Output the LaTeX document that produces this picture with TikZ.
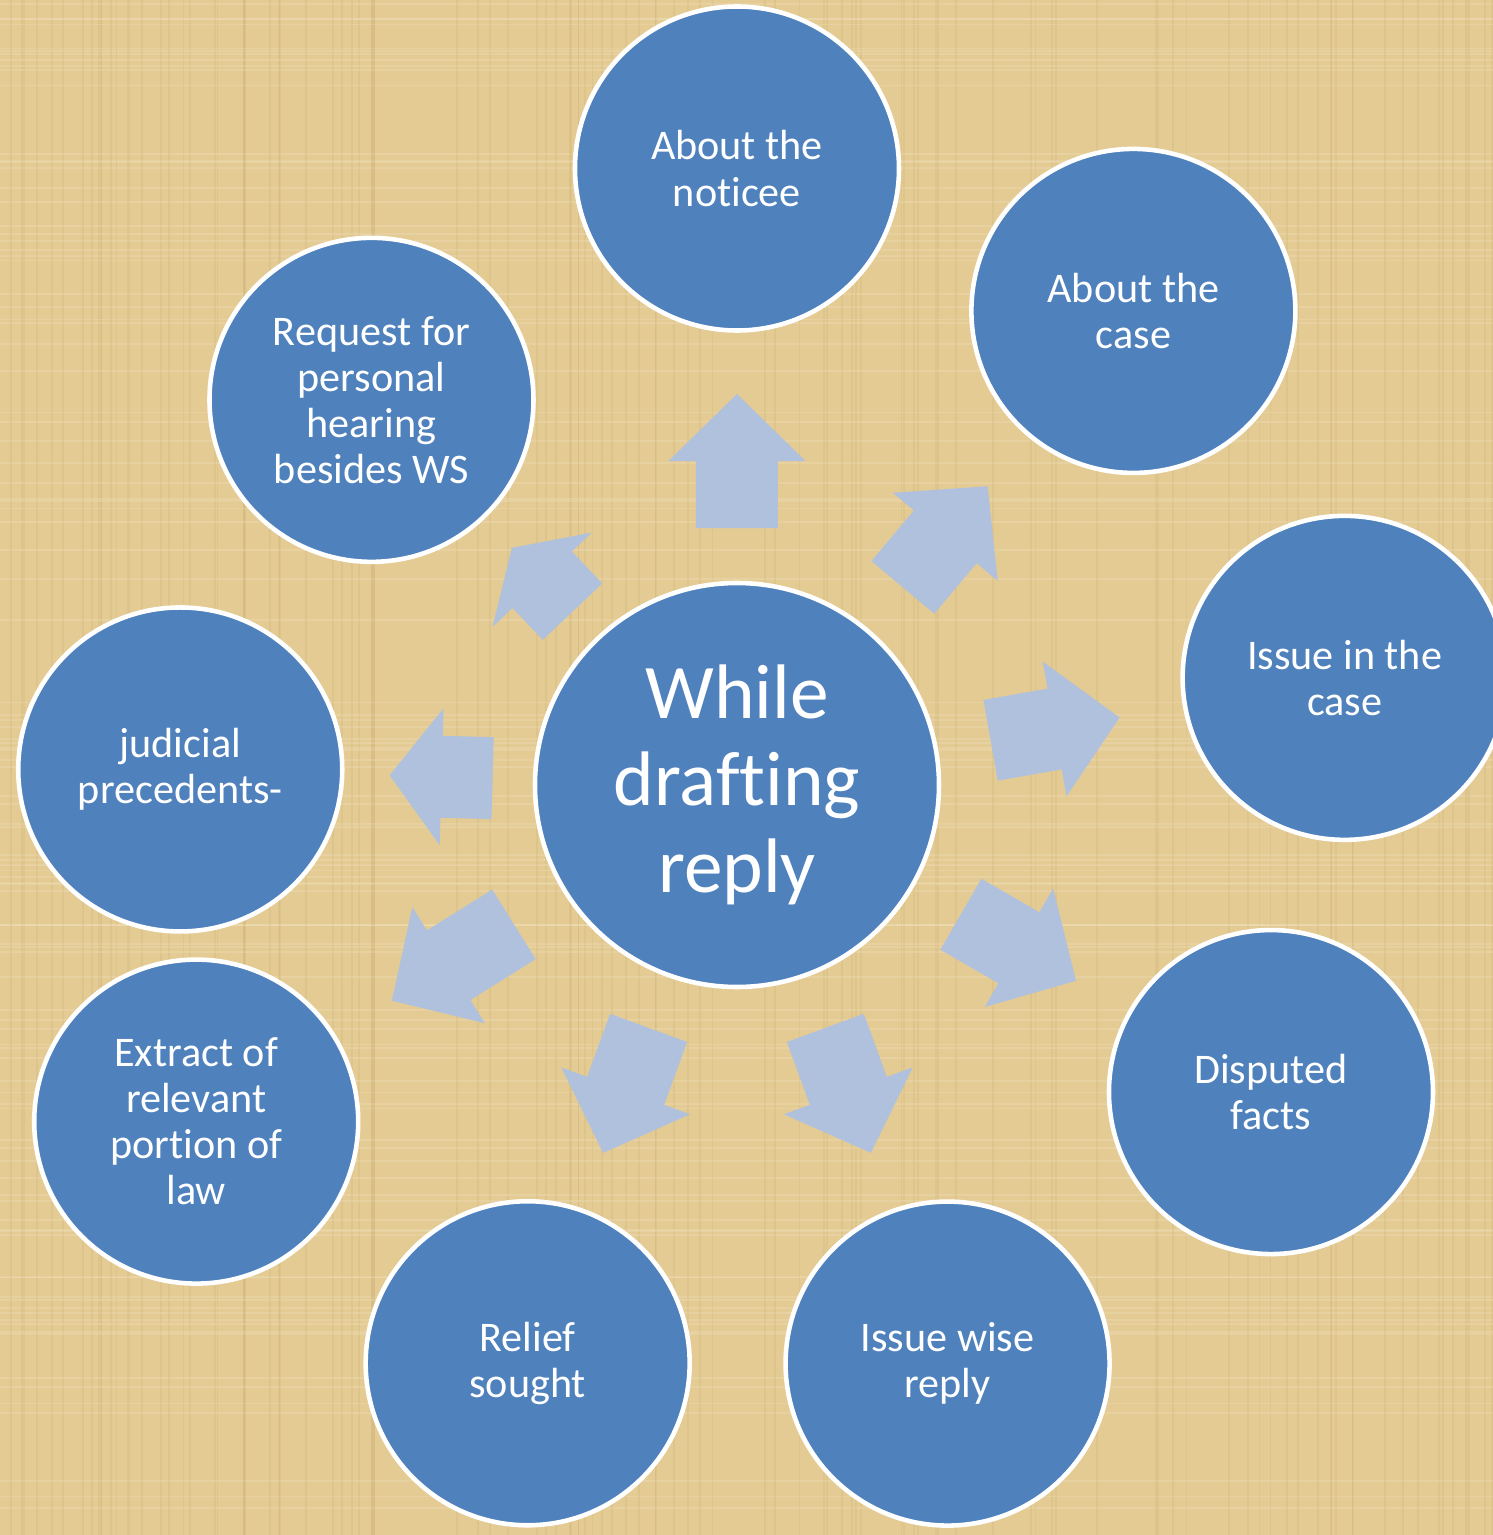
\documentclass[tikz,border=0pt]{standalone}
\usepackage{fontspec}
\setmainfont{Carlito}[Ligatures=NoCommon]
\definecolor{circblue}{RGB}{79,129,189}
\definecolor{arrowblue}{RGB}{176,193,222}
\definecolor{paper}{RGB}{228,203,148}
\definecolor{paperdark}{RGB}{190,160,98}
\definecolor{paperlight}{RGB}{242,226,188}
\tikzset{
  hub/.style={circle, fill=circblue, draw=white, line width=1.3pt, minimum size=4.04cm,
    inner sep=0pt, text=white, align=center, font=\fontsize{22}{24.7}\selectfont},
  leaf/.style={circle, fill=circblue, draw=white, line width=1.3pt, minimum size=3.24cm,
    inner sep=0pt, text=white, align=center, font=\fontsize{12}{13.1}\selectfont},
  fatarrow/.style={fill=arrowblue, draw=none}
}
\begin{document}
\begin{tikzpicture}
            \fill[paper] (-7.37,-7.50) rectangle (7.56,7.85);
            \clip (-7.37,-7.50) rectangle (7.56,7.85);
            % canvas texture
            \pgfmathsetseed{42}
            \foreach \k in {1, 2, ..., 110}
                {
                    \pgfmathsetmacro\xx{-7.37 + 14.93*rnd}
                    \pgfmathsetmacro\yy{-7.50 + 15.35*rnd}
                    \draw[paperdark, opacity=.16, line width=.5pt] (\xx,-7.50) -- (\xx,7.85);
                    \draw[paperlight, opacity=.30, line width=.5pt] (-7.37,\yy) -- (7.56,\yy);
                }
            % block arrows: angle / distance / length / head length
            \foreach \ang/\pos/\len/\head in {90/3.24/1.34/.67, 50/3.24/1.32/.66, 10/3.23/1.31/.66,
                -30/3.25/1.33/.66, -70/3.25/1.33/.66, -110/3.25/1.33/.66, -148/3.35/1.44/.67,
                178.4/2.96/1.03/.52, 133.5/2.83/.88/.44}
                {
                    \fill[fatarrow, shift={(\ang:\pos)}, rotate=\ang]
                        ({-\len/2},-.41) -- ({\len/2-\head},-.41) -- ({\len/2-\head},-.685)
                        -- ({\len/2},0) -- ({\len/2-\head},.685) -- ({\len/2-\head},.41)
                        -- ({-\len/2},.41) -- cycle;
                }
            \node[hub] (hub) at (0,0) {While\\drafting\\reply};
            \foreach \ang/\dist/\txt [count = \i] in {90/6.165/{About the\\noticee},
                50.1/6.18/{About the\\case}, 10/6.17/{Issue in the\\case},
                -29.9/6.16/{Disputed\\facts}, -70/6.157/{Issue wise\\reply},
                -109.9/6.15/{Relief\\sought}, -148.1/6.37/{Extract of\\relevant\\portion of\\law},
                178.4/5.57/{judicial\\precedents-},
                133.5/5.31/{Request for\\personal\\hearing\\besides WS}}
                {
                    \node[leaf] (leaf\i) at (\ang:\dist) {\txt};
                }
\end{tikzpicture}
\end{document}
